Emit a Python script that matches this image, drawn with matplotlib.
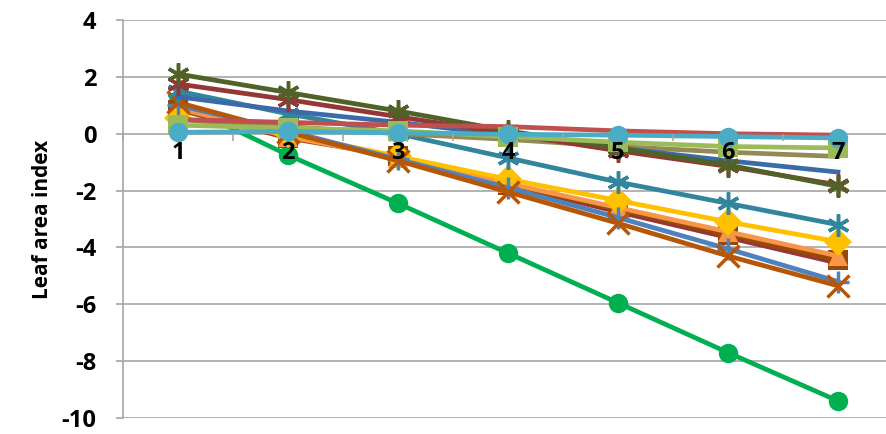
import numpy as np
import matplotlib.pyplot as plt

plt.rcParams['font.family'] = ['Open Sans', 'DejaVu Sans']
plt.rcParams['axes.unicode_minus'] = False

# days / categories on the x axis
x = [1, 2, 3, 4, 5, 6, 7]

# series values (leaf area index)
green_circle = [1.1, -0.75, -2.45, -4.2, -5.95, -7.7, -9.4]
aqua_circle = [0.05, 0.08, 0.03, -0.02, -0.05, -0.1, -0.15]
lime_square = [0.3, 0.2, 0.1, -0.1, -0.3, -0.45, -0.5]
olive_line = [0.5, 0.25, 0.0, -0.2, -0.45, -0.65, -0.8]
red_line = [0.5, 0.4, 0.3, 0.25, 0.1, 0.0, -0.05]
darkred_star = [1.75, 1.2, 0.6, 0.0, -0.6, -1.15, -1.8]
darkgreen_star = [2.1, 1.45, 0.8, 0.1, -0.5, -1.1, -1.85]
blue_line = [1.3, 0.8, 0.4, -0.05, -0.5, -0.95, -1.35]
teal_star = [1.5, 0.7, 0.0, -0.85, -1.7, -2.45, -3.2]
yellow_diamond = [0.55, 0.0, -0.8, -1.6, -2.35, -3.1, -3.8]
orange_triangle = [0.9, -0.1, -0.85, -1.75, -2.6, -3.45, -4.3]
brown_square = [0.85, -0.15, -0.8, -1.8, -2.65, -3.55, -4.45]
maroon_line = [1.0, 0.0, -0.85, -1.8, -2.75, -3.65, -4.55]
blue_plus = [1.0, 0.1, -0.9, -1.9, -2.95, -4.05, -5.2]
brown_x = [1.1, 0.05, -0.95, -2.05, -3.15, -4.3, -5.35]

series = [
    (green_circle, '#00B050', 'o'),
    (maroon_line, '#953735', None),
    (brown_square, '#984807', 's'),
    (orange_triangle, '#F79646', '^'),
    (yellow_diamond, '#FFC000', 'D'),
    (blue_plus, '#4F81BD', '+'),
    (brown_x, '#B65708', 'x'),
    (teal_star, '#31859C', (6, 2, 0)),
    (olive_line, '#948A54', None),
    (blue_line, '#3A6BA8', None),
    (darkred_star, '#953735', (6, 2, 0)),
    (darkgreen_star, '#4F6228', (6, 2, 0)),
    (red_line, '#C0504D', None),
    (lime_square, '#9BBB59', 's'),
    (aqua_circle, '#4BACC6', 'o'),
]

fig = plt.figure(figsize=(8.86, 4.34), dpi=100)
ax = fig.add_axes([123 / 886, 16 / 434, 770 / 886, 398 / 434])

yticks = np.arange(-10, 5, 2)
# gridlines drawn by hand so the x labels can sit above the series
for yv in yticks:
    if yv != 0:
        ax.axhline(yv, color='#A6A6A6', lw=1.2, zorder=0)

for vals, col, mk in series:
    if mk is None:
        ax.plot(x, vals, color=col, lw=3.4)
    elif mk in ('+', 'x') or isinstance(mk, tuple):
        ax.plot(x, vals, color=col, lw=3.4, marker=mk, markersize=16,
                markeredgewidth=2.5)
    else:
        ax.plot(x, vals, color=col, lw=3.4, marker=mk, markersize=14,
                markeredgewidth=0)

ax.set_xlim(0.5, 7.5)
ax.set_ylim(-10, 4)
ax.set_yticks(yticks)

ax.spines['top'].set_visible(False)
ax.spines['right'].set_visible(False)
ax.spines['left'].set_color('#A6A6A6')
ax.spines['bottom'].set_position(('data', 0))
ax.spines['bottom'].set_color('#A6A6A6')
ax.spines['bottom'].set_linewidth(1.2)
ax.spines['left'].set_linewidth(1.2)
ax.spines['bottom'].set_zorder(0.5)
ax.xaxis.set_zorder(5)

ax.set_xticks(x)
ax.set_xticks(np.arange(0.5, 8, 1), minor=True)
ax.tick_params(axis='x', which='major', length=0, pad=5, labelsize=17)
ax.tick_params(axis='x', which='minor', length=5, color='#A6A6A6', width=1.2)
ax.tick_params(axis='y', length=5, color='#A6A6A6', width=1.2, labelsize=17, pad=14)
for lab in ax.get_xticklabels() + ax.get_yticklabels():
    lab.set_fontweight('bold')

ax.set_ylabel('Leaf area index', fontsize=15, fontweight='bold', labelpad=6)

fig.savefig('out.png', dpi=100)
